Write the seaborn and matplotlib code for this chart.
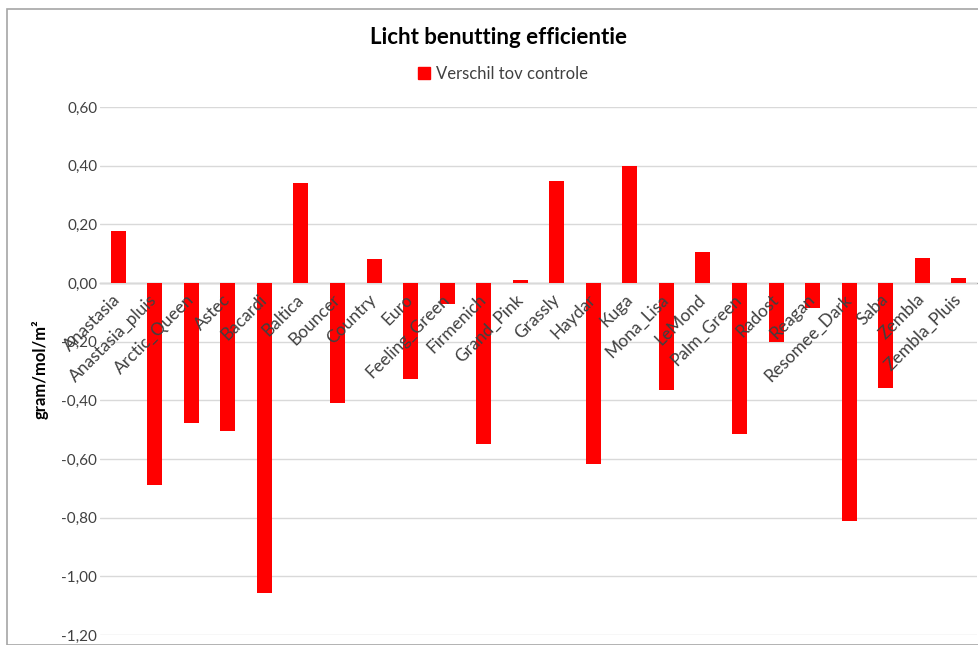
import matplotlib
matplotlib.use("Agg")
import matplotlib.pyplot as plt
import seaborn as sns
import pandas as pd
from matplotlib.patches import Rectangle, Patch
from matplotlib.ticker import FuncFormatter, MultipleLocator

categories = ["Anastasia", "Anastasia_pluis", "Arctic_Queen", "Astec", "Bacardi", "Baltica",
              "Bouncer", "Country", "Euro", "Feeling_Green", "Firmenich", "Grand_Pink",
              "Grassly", "Haydar", "Kuga", "Mona_Lisa", "LeMond", "Palm_Green", "Radost",
              "Reagan", "Resomee_Dark", "Saba", "Zembla", "Zembla_Pluis"]
values = [0.177, -0.69, -0.477, -0.505, -1.057, 0.34,
          -0.41, 0.082, -0.327, -0.072, -0.549, 0.01,
          0.348, -0.617, 0.399, -0.365, 0.106, -0.515, -0.201,
          -0.085, -0.811, -0.358, 0.085, 0.017]
series_name = "Verschil tov controle"
title = "Licht benutting efficientie"
ylabel = "gram/mol/m²"

sns.set_theme(style="white")
plt.rcParams['font.family'] = ['Lato', 'DejaVu Sans']

df = pd.DataFrame({"cat": categories, "val": values})

fig = plt.figure(figsize=(9.79, 6.45), dpi=100)
fig.patches.append(Rectangle((7/979, 0), 1.0, 1 - 9/645, transform=fig.transFigure,
                             fill=False, edgecolor="#a6a6a6", linewidth=1.2))
ax = fig.add_axes([100/979, 1 - 635/645, 877/979, (635 - 107)/645])

sns.barplot(data=df, x="cat", y="val", color="#ff0000", width=0.41, ax=ax,
            saturation=1, edgecolor="none")
ax.set_xlim(-0.5, len(categories) - 0.5)
ax.set_ylim(-1.2, 0.6)
ax.yaxis.set_major_locator(MultipleLocator(0.2))
ax.yaxis.set_major_formatter(FuncFormatter(lambda v, p: f"{v:.2f}".replace(".", ",").replace("-0,00", "0,00")))
ax.grid(axis="y", color="#d9d9d9", linewidth=1)
ax.set_axisbelow(True)
ax.xaxis.set_zorder(3)
for s in ["left", "right", "top"]:
    ax.spines[s].set_visible(False)
ax.spines["bottom"].set_position(("data", 0))
ax.spines["bottom"].set_color("#a6a6a6")
ax.spines["bottom"].set_linewidth(1)
ax.spines["bottom"].set_zorder(0.5)
ax.tick_params(axis="x", length=0, pad=10, labelsize=12.5, labelcolor="#404040")
ax.tick_params(axis="y", length=0, pad=2, labelsize=11, labelcolor="#404040")
for lab in ax.get_xticklabels():
    lab.set_rotation(45)
    lab.set_ha("right")
    lab.set_va("center")
    lab.set_rotation_mode("anchor")
ax.set_xlabel("")
ax.set_ylabel(ylabel, fontsize=12, fontweight="bold", color="#000000")
ax.yaxis.set_label_coords(40/979, 1 - 369/645, transform=fig.transFigure)
ax.yaxis.label.set_va("center")

fig.text(499/979, 1 - 37/645, title, ha="center", va="center", fontsize=16, fontweight="bold", color="#000000")
fig.legend(handles=[Patch(color="#ff0000", label=series_name)], loc="center",
           bbox_to_anchor=(503/979, 1 - 74/645), frameon=False, fontsize=12,
           handlelength=0.7, handleheight=0.7, handletextpad=0.4, labelcolor="#404040")

fig.savefig("out.png", dpi=100)
